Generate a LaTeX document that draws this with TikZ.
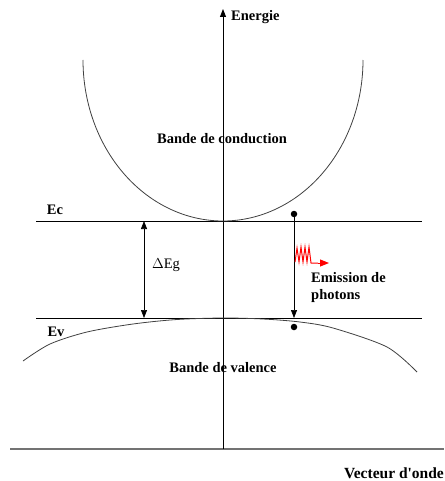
\documentclass[tikz,border=0pt]{standalone}
\usepackage{fontspec}
\setmainfont{Liberation Serif}
\newfontfamily\plainserif{Liberation Serif}
\usetikzlibrary{arrows.meta}
\begin{document}
\begin{tikzpicture}[x=1pt,y=-1pt,
  lbl/.style={font=\fontsize{14.5}{17}\selectfont\bfseries, inner sep=0pt},
  rlbl/.style={font=\fontsize{14.5}{17}\selectfont, inner sep=0pt},
  axisline/.style={line width=0.9pt},
  level/.style={line width=0.8pt},
  band/.style={line width=0.8pt, black!75},
  tri/.style={-{Triangle[length=8pt,width=6pt]}},
  dbl/.style={{Triangle[length=8pt,width=6pt]}-{Triangle[length=8pt,width=6pt]}},
  dotnode/.style={circle, fill, inner sep=0pt, minimum size=6.5pt}]
\useasboundingbox (0,0) rectangle (444,481);

% axes
\coordinate (orig) at (223,449);
\coordinate (etop) at (223,9);
\coordinate (kl) at (10,449);
\coordinate (kr) at (444,449);
\draw[line width=1.3pt, black!55] (kl) -- (kr);
\draw[axisline, tri] (orig) -- (etop);
\node[lbl, anchor=west] (energie) at (231,17) {Energie};
\node[lbl, font=\fontsize{15.5}{18}\selectfont\plainserif\bfseries, anchor=east] (vecteur) at (444,473) {Vecteur d'onde};

% levels
\coordinate (ecl) at (36,221);
\coordinate (ecr) at (422,221);
\coordinate (evl) at (36,318);
\coordinate (evr) at (422,318);
\draw[level] (ecl) -- (ecr);
\draw[level] (evl) -- (evr);
\node[lbl] (ec) at (55,210) {Ec};
\node[lbl] (ev) at (56,332) {Ev};

% bands
\draw[band] plot[domain=180:360, samples=90, smooth] ({223+140*cos(\x)},{60-161*sin(\x)});
\draw[band] plot[smooth] coordinates {(23,361) (50,344) (87,332) (133,324) (177,319.5) (223,318) (263,319) (300,322) (333,328) (387,347) (417,372)};
\node[lbl] (bc) at (222,139) {Bande de conduction};
\node[lbl] (bv) at (223,368) {Bande de valence};

% gap
\coordinate (g1) at (144,221);
\coordinate (g2) at (144,318);
\draw[line width=0.7pt, dbl] (g1) -- (g2);
\node[rlbl] (eg) at (166,265) {$\Delta$Eg};

% emission
\node[dotnode] (e1) at (294,214) {};
\node[dotnode] (e2) at (294,327) {};
\coordinate (e3) at (294,318);
\draw[line width=0.7pt, tri] (e1) -- (e3);
\coordinate (z0) at (295,262);
\coordinate (z9) at (318,263);
\coordinate (zt) at (329,263);
\draw[red, line width=1pt, line join=miter] (z0) -- (297,248) -- (299,262) -- (301,247) -- (303,262) -- (305,247) -- (307,262) -- (309,247) -- (311,263) -- (z9);
\draw[red, line width=1pt, -{Triangle[length=9pt,width=7pt]}] (z9) -- (zt);
\node[lbl, anchor=north west, align=left] (em) at (311,272) {Emission de\\photons};
\end{tikzpicture}
\end{document}
